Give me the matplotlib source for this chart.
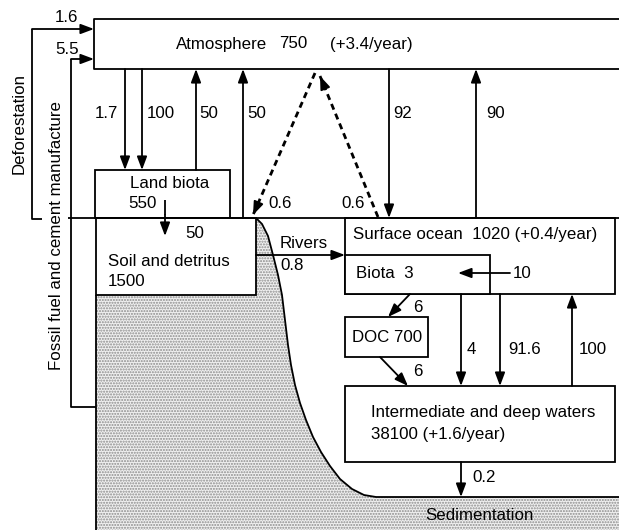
import matplotlib
matplotlib.use('Agg')
import matplotlib.pyplot as plt
from matplotlib.patches import Rectangle, Polygon

plt.rcParams['font.family'] = ['Liberation Sans', 'DejaVu Sans']

# carbon reservoirs (GtC) and yearly change
reservoirs = ['Atmosphere', 'Land biota', 'Soil and detritus', 'Surface ocean',
              'Biota', 'DOC', 'Intermediate and deep waters']
stocks = ['750', '550', '1500', '1020', '3', '700', '38100']
changes = ['(+3.4/year)', '', '', '(+0.4/year)', '', '', '(+1.6/year)']

# fluxes (GtC/year), in drawing order
fluxes = ['1.6', '5.5', '1.7', '100', '50', '50', '0.6', '0.6', '92', '90',
          '50', '0.8', '10', '6', '6', '4', '91.6', '100', '0.2']
side_labels = ['Deforestation', 'Fossil fuel and cement manufacture']
bottom_label = 'Sedimentation'

W, H = 619, 530
fig = plt.figure(figsize=(W / 100, H / 100), dpi=100)
ax = fig.add_axes([0, 0, 1, 1])
ax.set_xlim(0, W)
ax.set_ylim(H, 0)
ax.axis('off')

LW = 1.3
FS = 12.2


def line(xs, ys, **kw):
    ax.plot(xs, ys, color='k', lw=LW, solid_capstyle='butt', **kw)


def arrow(x0, y0, x1, y1):
    ax.annotate('', xy=(x1, y1), xytext=(x0, y0),
                arrowprops=dict(arrowstyle='-|>,head_length=0.8,head_width=0.3',
                                lw=LW, color='k', shrinkA=0, shrinkB=0,
                                mutation_scale=10))


def dashed_arrow(x0, y0, x1, y1):
    ax.plot([x0, x1], [y0, y1], color='k', lw=2.0, ls=(0, (2.2, 1.6)))
    f = 0.06
    arrow(x1 - (x1 - x0) * f, y1 - (y1 - y0) * f, x1, y1)


def txt(x, y, s, **kw):
    kw.setdefault('ha', 'left')
    kw.setdefault('va', 'center')
    ax.text(x, y, s, fontsize=FS, color='k', **kw)


# stippled land / sediment
curve = [(256, 218), (262, 224), (268, 236), (273, 255), (278, 275), (282, 295),
         (285, 320), (288, 345), (291, 365), (295, 385), (300, 403), (306, 420),
         (313, 437), (321, 452), (330, 466), (340, 479), (352, 489), (364, 495),
         (376, 497)]
poly = [(96, 530), (96, 295), (256, 295)] + curve + [(619, 497), (619, 530)]
ax.add_patch(Polygon(poly, closed=True, facecolor='#f0f0f0', edgecolor='#8c8c8c',
                     hatch='......', lw=0, zorder=0))
line([p[0] for p in curve] + [619], [p[1] for p in curve] + [497])
line([96, 96], [295, 530])

# atmosphere box (open to the right)
line([619, 94, 94, 619], [19, 19, 69, 69])
# ground / sea surface
line([68, 619], [218, 218])

# boxes
boxes = [(95, 170, 230, 218), (96, 218, 256, 295), (345, 218, 615, 294),
         (345, 255, 490, 294), (345, 317, 428, 357), (345, 386, 615, 462)]
for x0, y0, x1, y1 in boxes:
    ax.add_patch(Rectangle((x0, y0), x1 - x0, y1 - y0, facecolor='white',
                           edgecolor='k', lw=LW, zorder=1))

# reservoir text
txt(176, 44, reservoirs[0])
txt(279, 44, stocks[0])
txt(330, 44, changes[0])
txt(130, 184, reservoirs[1])
txt(128, 204, stocks[1])
txt(108, 262, reservoirs[2])
txt(108, 282, stocks[2])
txt(353, 234, reservoirs[3] + '  ' + stocks[3] + ' ' + changes[3])
txt(356, 273, reservoirs[4] + '  ' + stocks[4])
txt(352, 337, reservoirs[5] + ' ' + stocks[5])
txt(371, 413, reservoirs[6])
txt(371, 434, stocks[6] + ' ' + changes[6])

# human sources
line([42, 32, 32], [219, 219, 29])
arrow(32, 29, 94, 29)
line([96, 71, 71], [407, 407, 59])
arrow(71, 59, 94, 59)
txt(55, 17, fluxes[0])
txt(55, 49, fluxes[1])
txt(19, 124, side_labels[0], rotation=90, ha='center')
txt(57, 236, side_labels[1], rotation=90, ha='center')

# atmosphere <-> land
arrow(125, 69, 125, 170)
arrow(142, 69, 142, 170)
arrow(196, 170, 196, 69)
arrow(243, 218, 243, 69)
txt(95, 113, fluxes[2])
txt(147, 113, fluxes[3])
txt(199, 113, fluxes[4])
txt(247, 113, fluxes[5])

# dashed exchange
dashed_arrow(315, 73, 253, 215)
dashed_arrow(378, 217, 320, 76)
txt(280, 203, fluxes[6], ha='center')
txt(353, 203, fluxes[7], ha='center')

# atmosphere <-> ocean
arrow(389, 69, 389, 218)
arrow(476, 218, 476, 69)
txt(393, 113, fluxes[8])
txt(486, 113, fluxes[9])

# land internal and rivers
line([165, 165], [200, 215])
arrow(165, 215, 165, 236)
txt(185, 233, fluxes[10])
arrow(256, 255, 345, 255)
txt(280, 244, 'Rivers')
txt(280, 266, fluxes[11])

# ocean internal
arrow(510, 273, 458, 273)
txt(513, 273, fluxes[12])
arrow(410, 294, 388, 317)
txt(418, 307, fluxes[13], ha='center')
arrow(380, 357, 408, 386)
txt(418, 372, fluxes[14], ha='center')
arrow(461, 294, 461, 386)
arrow(500, 294, 500, 386)
arrow(572, 386, 572, 294)
txt(467, 350, fluxes[15])
txt(508, 350, fluxes[16])
txt(579, 350, fluxes[17])
arrow(461, 462, 461, 497)
txt(472, 478, fluxes[18])
txt(479, 515, bottom_label, ha='center')

fig.savefig('out.png', dpi=100)
